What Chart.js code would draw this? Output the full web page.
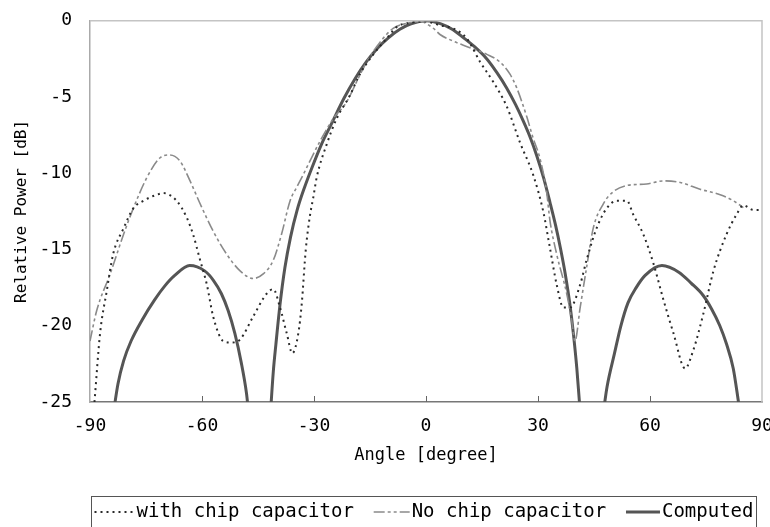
<!DOCTYPE html>
<html>
<head>
<meta charset="utf-8">
<script src="https://cdn.jsdelivr.net/npm/chart.js@4.4.1/dist/chart.umd.min.js"></script>
<style>
  html, body { margin: 0; padding: 0; background: #fff; }
  #wrap { width: 770px; height: 527px; }
</style>
</head>
<body>
<div id="wrap"><canvas id="pattern" width="770" height="527"></canvas></div>
<script>
// measured pattern, with chip capacitor
const withCapAngle = [-88.8, -87.3, -85.5, -83.8, -81, -78.4, -75.7, -72, -70.4, -66.8, -64.1, -62.4, -60.5, -58.7, -57, -54.3, -52, -49.8, -46.3, -42.7, -40.9, -39.1, -37.3, -35.8, -34.2, -33.3, -32.2, -31.1, -30.2, -29.3, -26.6, -23.9, -20.4, -17.7, -14.1, -10.5, -7.8, -3.5, 0, 3.75, 7.3, 10.9, 14.5, 18, 21.6, 25.2, 28.7, 31.4, 33.2, 35, 36.8, 38.6, 41.3, 43, 45.7, 48.4, 51.1, 53.8, 55.5, 58.2, 60.9, 63.6, 66.3, 69.4, 71.6, 74.3, 77, 80.5, 83.2, 85, 87.7, 90];
const withCapDb = [-25, -20.5, -17.7, -15.3, -13.6, -12.3, -11.8, -11.4, -11.3, -11.8, -12.9, -14.0, -15.7, -17.3, -19.4, -21.0, -21.1, -20.9, -19.4, -17.9, -17.6, -18.8, -20.5, -21.8, -20.5, -18.6, -15.0, -12.8, -11.6, -10.3, -8.1, -6.4, -4.9, -3.5, -2.2, -1.15, -0.4, -0.1, -0.05, -0.3, -0.5, -1.15, -2.7, -4.0, -5.6, -8.0, -10.1, -12.5, -14.9, -17.3, -18.8, -18.8, -17.3, -15.7, -13.6, -12.3, -11.8, -11.8, -12.7, -14.0, -15.9, -18.3, -20.5, -22.8, -21.6, -19.2, -16.4, -14.0, -12.7, -12.1, -12.4, -12.4];

// measured pattern, no chip capacitor
const noCapAngle = [-90, -88.2, -84.6, -81, -78.4, -74.8, -71.3, -68.6, -65.9, -63.2, -60.5, -57, -53.4, -49.8, -46.3, -43.6, -40.9, -38.7, -36.4, -34.6, -32.9, -31.1, -28.4, -24.8, -21.2, -18.6, -15.9, -12.3, -8.8, -5.2, -1.6, 2, 3.75, 7, 10, 16.3, 19.8, 22.5, 24.3, 27, 28.7, 30.5, 32.3, 33.2, 35, 37.7, 39, 39.9, 41.3, 43, 44.8, 47.5, 50.2, 53.8, 59.1, 63.6, 68.1, 73.4, 78.8, 82.3, 85];
const noCapDb = [-21.0, -19.0, -16.6, -14.0, -12.3, -10.3, -9.0, -8.8, -9.2, -10.5, -12.0, -13.8, -15.3, -16.4, -16.9, -16.6, -15.7, -14.0, -11.8, -10.9, -10.1, -9.2, -7.9, -6.4, -5.3, -4.0, -2.7, -1.4, -0.5, -0.17, -0.05, -0.5, -0.9, -1.3, -1.6, -2.2, -2.7, -3.5, -4.4, -6.3, -7.7, -9.0, -11.2, -13.1, -15.3, -17.9, -19.6, -21.0, -18.8, -16.2, -13.6, -12.0, -11.2, -10.8, -10.7, -10.5, -10.6, -11.05, -11.4, -11.8, -12.25];

// computed array pattern (null = null between lobes, below the axis)
const compAngle = [-83.6, -82.5, -81, -79, -76, -72.7, -70, -67.3, -63.3, -59.3, -57, -54.8, -53, -51.2, -49.5, -48.1, -47.6, -45,
    -41.6, -40.9, -40.2, -39.1, -37.8, -36.3, -34.5, -32.5, -30.5, -28, -25, -22, -19, -16, -13, -10, -7, -4, 0,
    4, 7, 10, 13, 16.3, 19, 21.6, 24, 26.1, 28, 29.6, 31.5, 33.2, 34.7, 36, 37.3, 38.6, 39.6, 40.4, 41.1, 41.5, 45,
    47.6, 48.5, 50.5, 52.2, 54.1, 56.3, 58.7, 63.2, 67.8, 71, 74.2, 76.5, 78.7, 80.5, 82.3, 83.7, 84];
const compDb = [-25.5, -23.8, -22.3, -21.0, -19.6, -18.3, -17.4, -16.7, -16.05, -16.4, -17.0, -17.9, -19.0, -20.5, -22.4, -24.4, -25.5, null,
    -25.5, -23.0, -21.2, -18.6, -16.2, -14.2, -12.4, -10.9, -9.6, -8.1, -6.6, -5.1, -3.8, -2.7, -1.8, -1.1, -0.55, -0.2, 0,
    -0.2, -0.55, -1.1, -1.7, -2.5, -3.4, -4.4, -5.5, -6.6, -7.7, -8.8, -10.3, -11.9, -13.4, -14.9, -16.6, -18.7, -20.8, -22.8, -25, -26, null,
    -25.5, -24.0, -21.8, -20.0, -18.5, -17.5, -16.7, -16.05, -16.5, -17.2, -18.0, -18.9, -20.0, -21.2, -22.8, -25, -25.5];

const xTicks = [-90, -60, -30, 0, 30, 60, 90];
const yTicks = [-25, -20, -15, -10, -5, 0];

const seriesNames = ['with chip capacitor', 'No chip capacitor', 'Computed'];

const FONT = "'DejaVu Sans Mono', 'Liberation Mono', monospace";

function toPoints(xs, ys) {
    return xs.map((x, i) => ({ x: x, y: ys[i] }));
}

// inner ticks on the x axis, plot frame and the boxed legend
const framePlugin = {
    id: 'frame',
    afterDraw(chart) {
        const ctx = chart.ctx;
        const area = chart.chartArea;
        const xs = chart.scales.x;
        ctx.save();
        ctx.strokeStyle = '#c4c4c4';
        ctx.lineWidth = 1.5;
        ctx.beginPath();
        ctx.moveTo(area.left, area.top);
        ctx.lineTo(area.right, area.top);
        ctx.lineTo(area.right, area.bottom);
        ctx.stroke();

        ctx.strokeStyle = '#666';
        ctx.lineWidth = 1;
        xTicks.slice(1, -1).forEach(v => {
            const px = Math.round(xs.getPixelForValue(v)) + 0.5;
            ctx.beginPath();
            ctx.moveTo(px, area.bottom);
            ctx.lineTo(px, area.bottom - 6);
            ctx.stroke();
        });

        // legend
        const box = { left: 91.5, top: 496.5, right: 756.5, bottom: 540 };
        ctx.strokeStyle = '#555';
        ctx.lineWidth = 1;
        ctx.strokeRect(box.left, box.top, box.right - box.left, box.bottom - box.top);

        ctx.font = '19px ' + FONT;
        ctx.fillStyle = '#000';
        ctx.textBaseline = 'middle';
        const midY = 512;
        const sampleLen = [40, 36, 34];
        const textW = chart.data.datasets.map(ds => ctx.measureText(ds.label).width);
        const used = sampleLen.reduce((a, b) => a + b, 0) + textW.reduce((a, b) => a + b, 0) + 3 * 2;
        const gap = (box.right - box.left - 6 - used) / 2;
        let cx = box.left + 3;
        chart.data.datasets.forEach((ds, i) => {
            ctx.save();
            ctx.strokeStyle = ds.borderColor;
            ctx.lineWidth = ds.borderWidth;
            ctx.setLineDash(ds.borderDash || []);
            ctx.beginPath();
            ctx.moveTo(cx, midY);
            ctx.lineTo(cx + sampleLen[i], midY);
            ctx.stroke();
            ctx.restore();
            cx += sampleLen[i] + 2;
            ctx.fillText(ds.label, cx, midY);
            cx += textW[i] + gap;
        });
        ctx.restore();
    }
};

const ctx = document.getElementById('pattern').getContext('2d');
new Chart(ctx, {
    type: 'line',
    data: {
        datasets: [{
            label: seriesNames[0],
            data: toPoints(withCapAngle, withCapDb),
            borderColor: '#2a2a2a',
            borderWidth: 2,
            borderDash: [2, 4],
            pointRadius: 0,
            cubicInterpolationMode: 'monotone'
        }, {
            label: seriesNames[1],
            data: toPoints(noCapAngle, noCapDb),
            borderColor: '#8a8a8a',
            borderWidth: 1.6,
            borderDash: [11, 3, 3, 3, 3, 3],
            pointRadius: 0,
            cubicInterpolationMode: 'monotone'
        }, {
            label: seriesNames[2],
            data: toPoints(compAngle, compDb),
            borderColor: '#555555',
            borderWidth: 3,
            pointRadius: 0,
            spanGaps: false,
            cubicInterpolationMode: 'monotone'
        }]
    },
    options: {
        responsive: false,
        animation: false,
        events: [],
        layout: { padding: { left: 0, right: 8, top: 7, bottom: 55 } },
        plugins: {
            legend: { display: false },
            tooltip: { enabled: false }
        },
        scales: {
            x: {
                type: 'linear',
                min: -90,
                max: 90,
                afterBuildTicks: s => { s.ticks = xTicks.map(v => ({ value: v })); },
                afterFit: s => { s.height = 70; s.paddingLeft = 0; s.paddingRight = 0; },
                grid: { display: false },
                border: { display: true, color: '#777', width: 1.5 },
                ticks: { font: { family: FONT, size: 18 }, color: '#000', padding: 6, maxRotation: 0 },
                title: { display: true, text: 'Angle [degree]', font: { family: FONT, size: 17 }, color: '#000', padding: { top: 0, bottom: 6 } }
            },
            y: {
                min: -25,
                max: 0,
                afterBuildTicks: s => { s.ticks = yTicks.map(v => ({ value: v })); },
                afterFit: s => { s.width = 90; },
                grid: { display: false },
                border: { display: true, color: '#aaa', width: 1.5 },
                ticks: { font: { family: FONT, size: 18 }, color: '#000', padding: 10 },
                title: { display: true, text: 'Relative Power [dB]', font: { family: FONT, size: 16 }, color: '#000', padding: { top: 12, bottom: 0 } }
            }
        }
    },
    plugins: [framePlugin]
});
</script>
</body>
</html>
